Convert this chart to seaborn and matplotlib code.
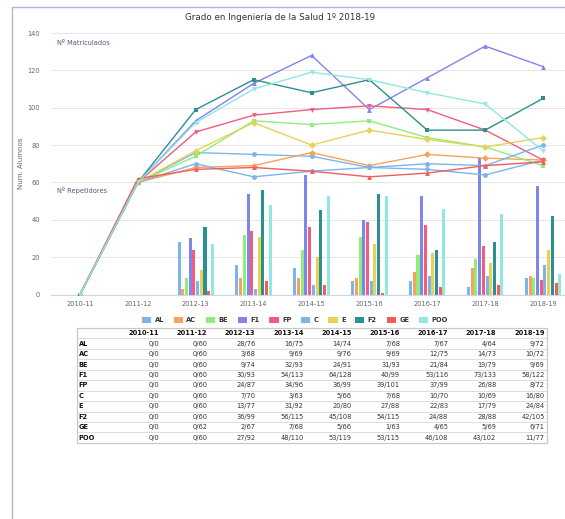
import numpy as np
import pandas as pd
import matplotlib
matplotlib.use("Agg")
import matplotlib.pyplot as plt
from matplotlib.lines import Line2D
from matplotlib.patches import Patch
import seaborn as sns

sns.set_style("white")
plt.rcParams["font.family"] = ["DejaVu Sans"]

# datos
cursos = ["2010-11", "2011-12", "2012-13", "2013-14", "2014-15",
          "2015-16", "2016-17", "2017-18", "2018-19"]
asignaturas = ["AL", "AC", "BE", "F1", "FP", "C", "E", "F2", "GE", "POO"]
colores = ["#7cb5ec", "#f7a35c", "#90ed7d", "#8085e9", "#f15c80",
           "#7cb5ec", "#e4d354", "#2b908f", "#f45b5b", "#91e8e1"]
marcadores = ["o", "D", "s", "^", "v", "o", "D", "s", "^", "v"]

matriculados = {
    "AL":  [0, 60, 76, 75, 74, 68, 67, 64, 72],
    "AC":  [0, 60, 68, 69, 76, 69, 75, 73, 72],
    "BE":  [0, 60, 74, 93, 91, 93, 84, 79, 69],
    "F1":  [0, 60, 93, 113, 128, 99, 116, 133, 122],
    "FP":  [0, 60, 87, 96, 99, 101, 99, 88, 72],
    "C":   [0, 60, 70, 63, 66, 68, 70, 69, 80],
    "E":   [0, 60, 77, 92, 80, 88, 83, 79, 84],
    "F2":  [0, 60, 99, 115, 108, 115, 88, 88, 105],
    "GE":  [0, 62, 67, 68, 66, 63, 65, 69, 71],
    "POO": [0, 60, 92, 110, 119, 115, 108, 102, 77],
}
repetidores = {
    "AL":  [0, 0, 28, 16, 14, 7, 7, 4, 9],
    "AC":  [0, 0, 3, 9, 9, 9, 12, 14, 10],
    "BE":  [0, 0, 9, 32, 24, 31, 21, 19, 9],
    "F1":  [0, 0, 30, 54, 64, 40, 53, 73, 58],
    "FP":  [0, 0, 24, 34, 36, 39, 37, 26, 8],
    "C":   [0, 0, 7, 3, 5, 7, 10, 10, 16],
    "E":   [0, 0, 13, 31, 20, 27, 22, 17, 24],
    "F2":  [0, 0, 36, 56, 45, 54, 24, 28, 42],
    "GE":  [0, 0, 2, 7, 5, 1, 4, 5, 6],
    "POO": [0, 0, 27, 48, 53, 53, 46, 43, 11],
}

filas = []
for a in asignaturas:
    for i, c in enumerate(cursos):
        filas.append({"curso": c, "idx": i, "asig": a,
                      "matr": matriculados[a][i], "rep": repetidores[a][i]})
df = pd.DataFrame(filas)

W, H = 565, 519
fig = plt.figure(figsize=(W / 100, H / 100), dpi=100)


def fx(x):
    return x / W


def fy(y):
    return 1 - y / H


ax = fig.add_axes([fx(51), fy(294.5), fx(572) - fx(51), fy(33) - fy(294.5)])

sns.barplot(data=df, x="curso", y="rep", hue="asig", palette=colores,
            width=0.64, gap=0.18, ax=ax, legend=False, zorder=2,
            linewidth=0, saturation=1)
sns.lineplot(data=df, x="idx", y="matr", hue="asig", style="asig",
             palette=colores, markers=dict(zip(asignaturas, marcadores)),
             dashes=False, ax=ax, legend=False, linewidth=1.0,
             markersize=3.5, markeredgewidth=0, zorder=3)

ax.set_xlim(-0.5, 8.5)
ax.set_ylim(0, 140)
ax.set_yticks(range(0, 141, 20))
ax.set_xticks(range(9))
ax.set_xticklabels(cursos)
ax.set_xticks(np.arange(-0.5, 9, 1), minor=True)
ax.tick_params(axis="x", which="major", length=0, labelsize=4.8,
               colors="#666666", pad=5)
ax.tick_params(axis="x", which="minor", length=4, color="#ccd6eb", width=0.8)
ax.tick_params(axis="y", length=0, labelsize=4.8, colors="#666666", pad=8)
ax.grid(axis="y", color="#e6e6e6", linewidth=0.7)
ax.set_axisbelow(True)
for s in ["top", "right", "left"]:
    ax.spines[s].set_visible(False)
ax.spines["bottom"].set_color("#ccd6eb")
ax.spines["bottom"].set_linewidth(0.8)
ax.set_xlabel("")
ax.set_ylabel("Num. Alumnos", fontsize=5, color="#666666")
ax.yaxis.set_label_coords((24 - 51) / (572 - 51), 0.5)

fig.text(fx(280), fy(17), "Grado en Ingeniería de la Salud 1º 2018-19",
         ha="center", va="center", fontsize=6.3, color="#333333")
fig.text(fx(57), fy(43), "Nº Matriculados", ha="left", va="center",
         fontsize=4.8, color="#4d5b7c")
fig.text(fx(57), fy(191), "Nº Repetidores", ha="left", va="center",
         fontsize=4.8, color="#4d5b7c")

# leyenda
handles = [Patch(facecolor=c, edgecolor="none") for c in colores]
leg = fig.legend(handles, asignaturas, loc="center", ncol=10,
                 bbox_to_anchor=(fx(295), fy(320)), frameon=False,
                 prop={"size": 4.8, "weight": "bold"}, handlelength=1.4,
                 handleheight=1.0, handletextpad=0.5, columnspacing=1.45)
for t in leg.get_texts():
    t.set_color("#333333")

# marco
fig.add_artist(Line2D([fx(12), fx(12)], [fy(7), 0], color="#a9b8d6", lw=1.0))
fig.add_artist(Line2D([fx(12), 1], [fy(7), fy(7)], color="#a9b8d6", lw=1.0))

# tabla
t_left, t_right = 77, 547
t_top = 328
row_h = 10.44
n_rows = len(asignaturas) + 1
t_bottom = t_top + row_h * n_rows
col_right = [159 + 48.2 * i for i in range(len(cursos))]

for k in range(n_rows + 1):
    y = t_top + row_h * k
    if k in (0, n_rows):
        col, lw = "#c8c8c8", 0.9
    else:
        col, lw = "#dddddd", 0.7
    fig.add_artist(Line2D([fx(t_left), fx(t_right)], [fy(y), fy(y)],
                          color=col, lw=lw))
for x in (t_left, t_right):
    fig.add_artist(Line2D([fx(x), fx(x)], [fy(t_top), fy(t_bottom)],
                          color="#c8c8c8", lw=0.9))

yc = t_top + row_h / 2
for i, c in enumerate(cursos):
    fig.text(fx(col_right[i]), fy(yc), c, ha="right", va="center",
             fontsize=4.8, weight="bold", color="#111111")
for r, a in enumerate(asignaturas):
    yc = t_top + row_h * (r + 1.5)
    fig.text(fx(t_left + 1.5), fy(yc), a, ha="left", va="center",
             fontsize=4.8, weight="bold", color="#111111")
    for i in range(len(cursos)):
        txt = f"{repetidores[a][i]}/{matriculados[a][i]}"
        fig.text(fx(col_right[i]), fy(yc), txt, ha="right", va="center",
                 fontsize=4.8, color="#333333")

fig.savefig("out.png", dpi=100)
